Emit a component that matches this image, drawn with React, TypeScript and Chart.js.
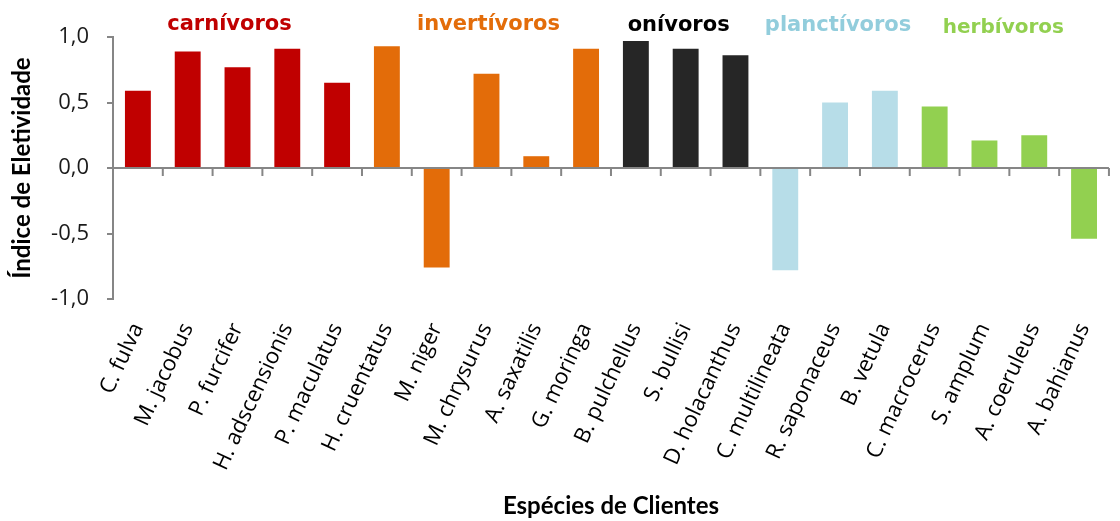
import { useEffect, useRef } from "react";
import { Chart, registerables } from "chart.js";

Chart.register(...registerables);

// Client species and their electivity index
const species = [
  "C. fulva",
  "M. jacobus",
  "P. furcifer",
  "H. adscensionis",
  "P. maculatus",
  "H. cruentatus",
  "M. niger",
  "M. chrysurus",
  "A. saxatilis",
  "G. moringa",
  "B. pulchellus",
  "S. bullisi",
  "D. holacanthus",
  "C. multilineata",
  "R. saponaceus",
  "B. vetula",
  "C. macrocerus",
  "S. amplum",
  "A. coeruleus",
  "A. bahianus",
];

const eletividade = [
  0.59, 0.89, 0.77, 0.91, 0.65, 0.93, -0.76, 0.72, 0.09, 0.91, 0.97, 0.91,
  0.86, -0.78, 0.5, 0.59, 0.47, 0.21, 0.25, -0.54,
];

// Trophic guilds, in order, with how many species belong to each
const guildNames = ["carnívoros", "invertívoros", "onívoros", "planctívoros", "herbívoros"];
const guildSizes = [5, 5, 3, 3, 4];

const yTickValues = [-1, -0.5, 0, 0.5, 1];

// Styling
const guildBarColors = ["#C00000", "#E36C09", "#262626", "#B7DDE8", "#92D050"];
const guildTextColors = ["#C00000", "#E36C09", "#000000", "#92CDDC", "#92D050"];
const guildFontSizes = [21, 21, 21, 21, 20];
const guildBaselines = [30, 30, 31, 31, 33];
const guildShift = [-8, 2, -7, 3, -6];
const AXIS_GRAY = "#868686";
const TICK_FONT = '"Open Sans"';
const TITLE_FONT = "Lato";

function guildIndexOf(i: number): number {
  let acc = 0;
  for (let g = 0; g < guildSizes.length; g++) {
    acc += guildSizes[g];
    if (i < acc) return g;
  }
  return guildSizes.length - 1;
}

const barColors = species.map((_, i) => guildBarColors[guildIndexOf(i)]);

// Zero line with tick marks between categories, drawn over the bars
const zeroAxisPlugin = {
  id: "zeroAxis",
  afterDatasetsDraw(chart: any) {
    const { ctx, chartArea, scales } = chart;
    const x = scales.x;
    const y = scales.y;
    const y0 = y.getPixelForValue(0);
    const step = x.getPixelForValue(1) - x.getPixelForValue(0);
    ctx.save();
    ctx.strokeStyle = AXIS_GRAY;
    ctx.lineWidth = 2;
    ctx.beginPath();
    ctx.moveTo(chartArea.left, y0);
    ctx.lineTo(chartArea.right, y0);
    for (let i = 0; i <= species.length; i++) {
      const px = x.getPixelForValue(0) - step / 2 + i * step;
      ctx.moveTo(px, y0);
      ctx.lineTo(px, y0 + 8);
    }
    ctx.stroke();
    ctx.restore();
  },
};

// Guild names above their group of bars
const guildLabelsPlugin = {
  id: "guildLabels",
  afterDraw(chart: any) {
    const { ctx, scales } = chart;
    const x = scales.x;
    ctx.save();
    ctx.textAlign = "center";
    ctx.textBaseline = "alphabetic";
    let start = 0;
    guildNames.forEach((name, g) => {
      const end = start + guildSizes[g] - 1;
      const cx = (x.getPixelForValue(start) + x.getPixelForValue(end)) / 2 + guildShift[g];
      ctx.font = `bold ${guildFontSizes[g]}px "DejaVu Sans"`;
      ctx.fillStyle = guildTextColors[g];
      ctx.fillText(name, cx, guildBaselines[g]);
      start = end + 1;
    });
    ctx.restore();
  },
};

export default function App() {
  const canvasRef = useRef<HTMLCanvasElement | null>(null);

  useEffect(() => {
    if (!canvasRef.current) return;
    const chart = new Chart(canvasRef.current, {
      type: "bar",
      data: {
        labels: species,
        datasets: [
          {
            data: eletividade,
            backgroundColor: barColors,
            borderWidth: 0,
            barPercentage: 1,
            categoryPercentage: 0.52,
          },
        ],
      },
      options: {
        animation: false,
        responsive: true,
        maintainAspectRatio: false,
        layout: { padding: { top: 37, right: 1, left: 0, bottom: 0 } },
        plugins: {
          legend: { display: false },
          tooltip: { enabled: false },
        },
        scales: {
          x: {
            grid: { display: false },
            border: { display: false },
            ticks: {
              autoSkip: false,
              minRotation: 65,
              maxRotation: 65,
              padding: 12,
              color: "#000000",
              font: { family: TICK_FONT, size: 22, style: "normal" },
            },
            title: {
              display: true,
              text: "Espécies de Clientes",
              color: "#000000",
              font: { family: TITLE_FONT, size: 24, weight: "bold" },
              padding: { top: 0, bottom: 0 },
            },
            afterFit(scale: any) {
              scale.height = 222;
            },
          },
          y: {
            min: -1,
            max: 1,
            afterBuildTicks(scale: any) {
              scale.ticks = yTickValues.map((v) => ({ value: v }));
            },
            grid: {
              drawOnChartArea: false,
              drawTicks: true,
              tickLength: 6,
              tickColor: AXIS_GRAY,
              lineWidth: 2,
            },
            border: { display: true, color: AXIS_GRAY, width: 2 },
            ticks: {
              padding: 18,
              color: "#1a1a1a",
              font: { family: TICK_FONT, size: 22 },
              callback: (v: any) => Number(v).toFixed(1).replace(".", ","),
            },
            title: {
              display: true,
              text: "Índice de Eletividade",
              color: "#000000",
              font: { family: TITLE_FONT, size: 24, weight: "bold" },
              padding: { top: 8, bottom: 0 },
            },
            afterFit(scale: any) {
              scale.width = 113;
            },
          },
        },
      },
      plugins: [zeroAxisPlugin, guildLabelsPlugin],
    });
    return () => chart.destroy();
  }, []);

  return (
    <div style={{ position: "fixed", left: 0, top: 0, width: 1120, height: 521, background: "#ffffff" }}>
      <canvas ref={canvasRef} />
    </div>
  );
}
